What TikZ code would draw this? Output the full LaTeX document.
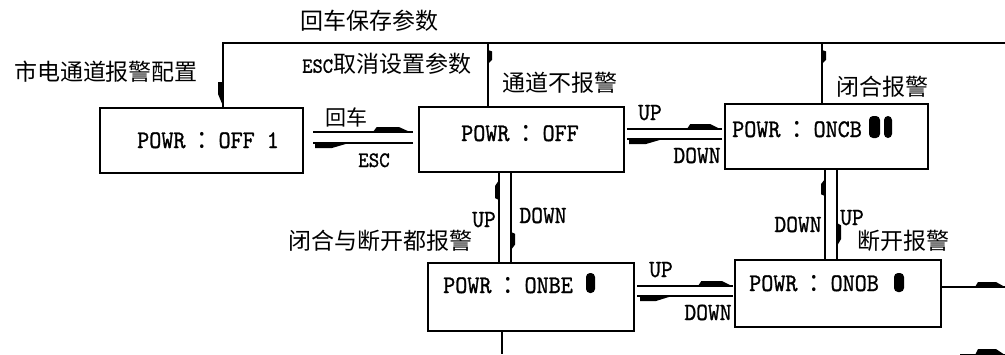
\documentclass[tikz,border=0pt]{standalone}
\usepackage{fontspec}
\usepackage{graphicx}
\usetikzlibrary{arrows.meta,decorations.markings,calc}
\newfontfamily\cjk{Noto Sans CJK SC}
\newfontfamily\mono{lmmono10-regular.otf}[FakeBold=1.2]
\newcommand\mt[2][23]{\scalebox{1}[1.1]{\mono\fontsize{#1}{#1}\selectfont #2}}
\newcommand\fc{\makebox[21pt][l]{\hspace{-1pt}\cjk ：}}
\tikzset{
  box/.style={draw, line width=1.7pt, anchor=north west, inner sep=0pt, outer sep=0pt},
  ln/.style={line width=1.3pt},
  cn/.style={font=\cjk\fontsize{23}{23}\selectfont, inner sep=0pt},
  mlab/.style={inner sep=0pt, anchor=base},
  ptxt/.style={inner sep=0pt, anchor=base west},
  wn/.style n args={3}{postaction={decorate,decoration={markings,mark=at position #1 with {\fill (0pt,0pt) -- (-0.3*#2,#3) -- (-0.9*#2,#3) -- (-#2,0pt) -- cycle;}}}},
  wr/.style n args={3}{postaction={decorate,decoration={markings,mark=at position #1 with {\fill (0pt,0pt) -- (0pt,#3) -- (-0.5*#2,#3) -- (-#2,0pt) -- cycle;}}}},
}
\begin{document}
\begin{tikzpicture}[x=1pt,y=-1pt]
\useasboundingbox (0,0) rectangle (1005,354);
% boxes
\node[box, minimum width=203pt, minimum height=65pt] (b1) at (100,108) {};
\node[box, minimum width=205pt, minimum height=65pt] (b2) at (419,107) {};
\node[box, minimum width=203pt, minimum height=65pt] (b3) at (725,104) {};
\node[box, minimum width=206pt, minimum height=68pt] (b4) at (428,263) {};
\node[box, minimum width=206pt, minimum height=67pt] (b5) at (735,260) {};
% box texts
\node[ptxt] (t1) at (137,148) {\mt{POWR \fc{}OFF 1}};
\node[ptxt] (t2) at (461,141) {\mt{POWR \fc{}OFF}};
\node[ptxt] (t3) at (732,137) {\mt{POWR \fc{}ONCB}};
\node[ptxt] (t4) at (443,293) {\mt{POWR \fc{}ONBE}};
\node[ptxt] (t5) at (749,291) {\mt{POWR \fc{}ONOB}};
\fill[rounded corners=4pt] (869,116) rectangle (880,138);
\fill[rounded corners=4pt] (884,116) rectangle (892,138);
\fill[rounded corners=4pt] (586,273) rectangle (595,293);
\fill[rounded corners=4pt] (894,273) rectangle (904,292);
% top bus
\coordinate (busL) at (223,43);
\coordinate (busR) at (1005,43);
\coordinate (bus2) at (488,43);
\coordinate (bus3) at (822,43);
\draw[ln, wr={26pt}{24pt}{5pt}] ([xshift=21.5pt]b1.north) -- (busL) -- (busR);
\draw[ln, wn={21pt}{14pt}{4pt}] (bus2) -- ([xshift=-33.5pt]b2.north);
\draw[ln, wn={21pt}{14pt}{4pt}] (bus3) -- ([xshift=-4.5pt]b3.north);
% b1 <-> b2
\draw[ln, wn={97pt}{37pt}{5pt}] ([xshift=10pt,yshift=8.5pt]b1.east) -- ([xshift=-6pt,yshift=7.5pt]b2.west);
\draw[ln, wr={98pt}{34pt}{5pt}] ([xshift=-6pt,yshift=-3.5pt]b2.west) -- ([xshift=10pt,yshift=-2.5pt]b1.east);
% b2 <-> b3
\draw[ln, wn={93pt}{33pt}{5pt}] ([xshift=3pt,yshift=10.5pt]b2.east) -- ([xshift=-3pt,yshift=7.5pt]b3.west);
\draw[ln, wr={93pt}{34pt}{5pt}] ([xshift=-3pt,yshift=-2.5pt]b3.west) -- ([xshift=3pt,yshift=0.5pt]b2.east);
% b4 <-> b5
\draw[ln, wn={95pt}{34pt}{5pt}] ([xshift=3pt,yshift=11pt]b4.east) -- ([xshift=-2pt,yshift=7.5pt]b5.west);
\draw[ln, wr={93pt}{32pt}{5pt}] ([xshift=-2pt,yshift=-2.5pt]b5.west) -- ([xshift=3pt,yshift=1pt]b4.east);
% b2 <-> b4
\draw[ln, wn={83pt}{20pt}{4pt}] ([xshift=-32pt]b4.north) -- ([xshift=-22.5pt]b2.south);
\draw[ln, wn={78pt}{18pt}{4pt}] ([xshift=-10.5pt]b2.south) -- ([xshift=-20pt]b4.north);
% b3 <-> b5
\draw[ln, wn={81pt}{17pt}{4pt}] ([xshift=-13pt]b5.north) -- ([xshift=-1.5pt]b3.south);
\draw[ln, wn={77pt}{23pt}{4pt}] ([xshift=10.5pt]b3.south) -- ([xshift=-1pt]b5.north);
% outgoing
\coordinate (outR) at (1005,287);
\draw[ln, wn={64pt}{30pt}{5pt}] ([yshift=6.5pt]b5.east) -- (outR);
\coordinate (outB) at (502,354);
\draw[ln] ([xshift=-29pt]b4.south) -- (outB);
\coordinate (fragA) at (960,355);
\coordinate (fragB) at (1008,355);
\draw[ln, wn={45pt}{30pt}{6pt}] (fragA) -- (fragB);
% labels
\node[cn] (lsave) at (369,21) {回车保存参数};
\node[cn] (lcfg) at (106,72) {市电通道报警配置};
\node[cn, anchor=west] (lesc) at (302,64) {\mt[19.6]{ESC}取消设置参数};
\node[cn] (lno) at (560,83) {通道不报警};
\node[cn] (lcb) at (882,87) {闭合报警};
\node[cn] (lbe) at (380,241) {闭合与断开都报警};
\node[cn] (lob) at (903,241) {断开报警};
\node[cn, font=\cjk\fontsize{21}{21}\selectfont] (lenter) at (346,117) {回车};
\node[mlab] (lesc2) at (374,167) {\mt[20]{ESC}};
\node[mlab] (u1) at (650,120) {\mt[22.4]{UP}};
\node[mlab] (d1) at (697,163) {\mt[22.4]{DOWN}};
\node[mlab] (u2) at (484,227) {\mt[22.4]{UP}};
\node[mlab] (d2) at (543,223) {\mt[22.4]{DOWN}};
\node[mlab] (d3) at (798,232) {\mt[22.4]{DOWN}};
\node[mlab] (u3) at (852,225) {\mt[22.4]{UP}};
\node[mlab] (u4) at (661,277) {\mt[22.4]{UP}};
\node[mlab] (d4) at (708,320) {\mt[22.4]{DOWN}};
\end{tikzpicture}
\end{document}
